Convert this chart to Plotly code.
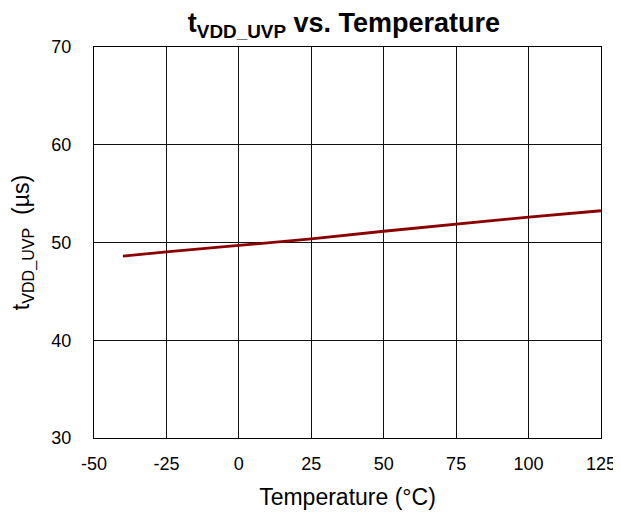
import plotly.graph_objects as go

temperature = [-40, -25, 0, 25, 50, 75, 100, 125]
t_uvp = [48.6, 49.05, 49.7, 50.37, 51.15, 51.9, 52.6, 53.25]
x_ticks = [-50, -25, 0, 25, 50, 75, 100, 125]
x_labels = ["-50", "-25", "0", "25", "50", "75", "100", "125"]
y_ticks = [30, 40, 50, 60, 70]

fig = go.Figure()
fig.add_trace(go.Scatter(x=temperature, y=t_uvp, mode="lines",
                         line=dict(color="#8B0000", width=2.8), showlegend=False))

font = "Liberation Sans, Arial, sans-serif"
fig.update_layout(
    width=621, height=515,
    margin=dict(l=86, r=28, t=39, b=85, autoexpand=False),
    paper_bgcolor="white", plot_bgcolor="white",
    font=dict(family=font, size=18, color="black"),
    title=dict(text="<b>t<sub>VDD_UVP</sub> vs. Temperature</b>", x=0.541, xanchor="center",
               y=0.99, yanchor="top", font=dict(size=27, family=font)),
    xaxis=dict(range=[-50, 125], tickvals=x_ticks, ticktext=x_labels, showgrid=True,
               gridcolor="#111", gridwidth=1,
               showline=True, linecolor="black", linewidth=1, mirror=True, zeroline=False,
               ticks="", ticklabelstandoff=9,
               title=dict(text="Temperature (°C)", font=dict(size=23), standoff=16)),
    yaxis=dict(range=[30, 70], tickvals=y_ticks, showgrid=True, gridcolor="#111", gridwidth=1,
               showline=True, linecolor="black", linewidth=1, mirror=True, zeroline=False,
               ticks="", ticklabelstandoff=18,
               title=dict(text="t<sub>VDD_UVP</sub>  (µs)", font=dict(size=23), standoff=20)),
)
fig.write_html("out.html")
